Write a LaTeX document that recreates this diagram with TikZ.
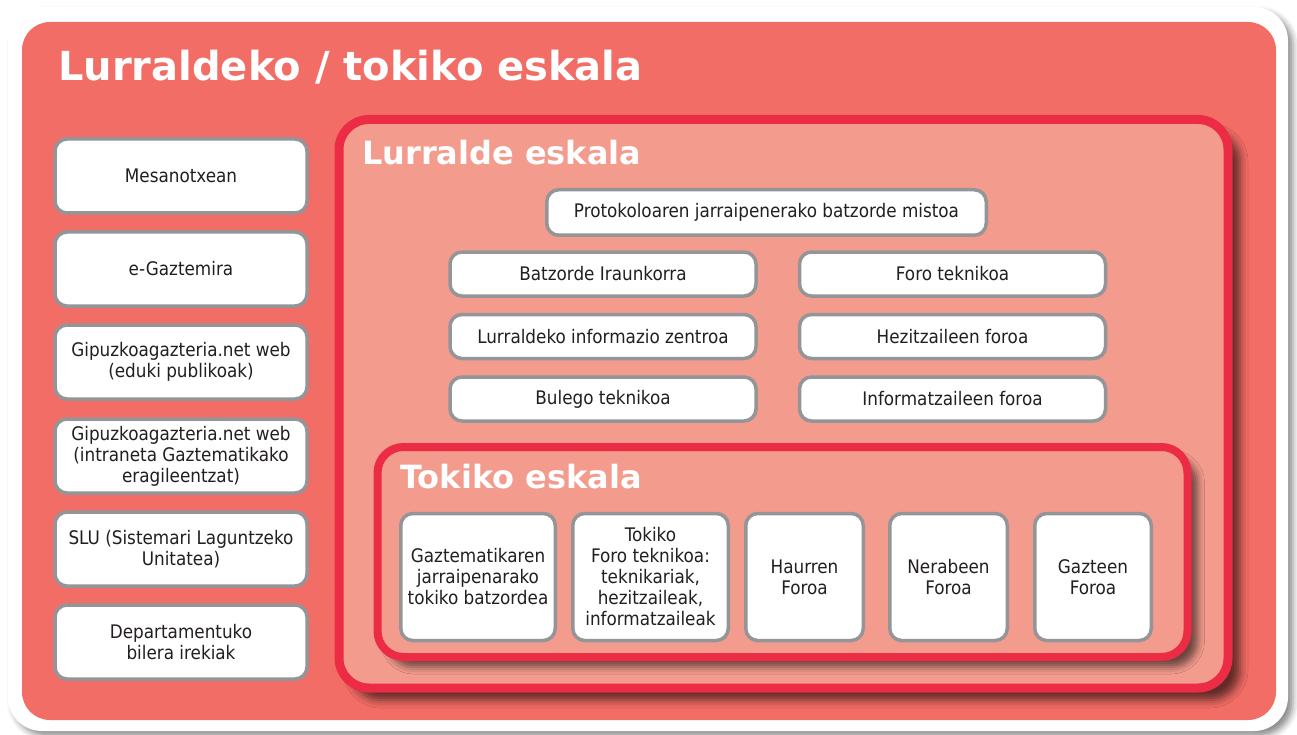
\documentclass[tikz,border=0pt]{standalone}
\usepackage{fontspec}
\setmainfont{DejaVuSansCondensed}[Extension=.ttf,BoldFont=DejaVuSansCondensed-Bold]
\newfontfamily\headfont{DejaVuSans-Bold}[Extension=.ttf]
\usepackage{xcolor}
\usetikzlibrary{shadows.blur}
\definecolor{outerred}{HTML}{F26D65}
\definecolor{innerpink}{HTML}{F39B8D}
\definecolor{edgered}{HTML}{EC2B45}
\definecolor{boxgray}{HTML}{939598}
\definecolor{textgray}{HTML}{231F20}

\begin{document}
\begin{tikzpicture}[x=1pt,y=-1pt,
  item/.style={draw=boxgray,line width=3.5pt,fill=white,rounded corners=12pt,align=center,
    text=textgray,font=\fontsize{18.7}{21}\selectfont,inner sep=0pt},
  leftbox/.style={item,minimum width=252pt,minimum height=74pt},
  rowbox/.style={item,minimum width=306pt,minimum height=44pt},
  forum/.style={item,minimum height=127pt},
  heading/.style={anchor=base west,inner sep=0pt,text=white,font=\headfont\fontsize{#1}{#1}\selectfont}]
  \useasboundingbox (0,0) rectangle (1297,735);
  % frames
  \path[fill=white,rounded corners=34pt,blur shadow={shadow xshift=5pt,shadow yshift=-5pt,shadow blur radius=6pt,shadow opacity=45}] (8,7) rectangle (1288,731);
  \fill[outerred,rounded corners=28pt] (22,22) rectangle (1276,720);
  \draw[edgered,line width=9pt,fill=innerpink,rounded corners=30pt,blur shadow={shadow xshift=12pt,shadow yshift=-12pt,shadow blur radius=8pt,shadow opacity=60}] (339,119.5) rectangle (1228,688);
  \draw[edgered,line width=8pt,fill=innerpink,rounded corners=26pt,blur shadow={shadow xshift=10pt,shadow yshift=-10pt,shadow blur radius=7pt,shadow opacity=55}] (377.5,447) rectangle (1187.5,657);
  \node[heading=40] (titlemain) at (58,81) {Lurraldeko / tokiko eskala};
  \node[heading=32] (titlelurr) at (362,165) {Lurralde eskala};
  \node[heading=32] (titletoki) at (400,488) {Tokiko eskala};
  % left column
  \node[leftbox] (mesa) at (181,176) {Mesanotxean};
  \node[leftbox] (egazte) at (181,269) {e-Gaztemira};
  \node[leftbox] (webpub) at (181,362) {Gipuzkoagazteria.net web\\(eduki publikoak)};
  \node[leftbox] (webint) at (181,456) {Gipuzkoagazteria.net web\\(intraneta Gaztematikako\\eragileentzat)};
  \node[leftbox] (slu) at (181,549) {SLU (Sistemari Laguntzeko\\Unitatea)};
  \node[leftbox] (bilera) at (181,642) {Departamentuko\\bilera irekiak};
  % lurralde eskala
  \node[item,minimum width=439.5pt,minimum height=45.5pt] (proto) at (766.5,212.5) {Protokoloaren jarraipenerako batzorde mistoa};
  \node[rowbox] (iraun) at (603,274) {Batzorde Iraunkorra};
  \node[rowbox] (info) at (603,336.5) {Lurraldeko informazio zentroa};
  \node[rowbox] (bulego) at (603,399) {Bulego teknikoa};
  \node[rowbox] (foro) at (952.5,274) {Foro teknikoa};
  \node[rowbox] (hezi) at (952.5,336.5) {Hezitzaileen foroa};
  \node[rowbox] (inform) at (952.5,399) {Informatzaileen foroa};
  % tokiko eskala
  \node[forum,minimum width=154.5pt] (gazbatz) at (478,577) {Gaztematikaren\\jarraipenarako\\tokiko batzordea};
  \node[forum,minimum width=155.5pt] (tokforo) at (650.5,577) {Tokiko\\Foro teknikoa:\\teknikariak,\\hezitzaileak,\\informatzaileak};
  \node[forum,minimum width=117.5pt] (haur) at (804.5,577) {Haurren\\Foroa};
  \node[forum,minimum width=117.5pt] (nera) at (948.5,577) {Nerabeen\\Foroa};
  \node[forum,minimum width=116.5pt] (gazte) at (1093,577) {Gazteen\\Foroa};
\end{tikzpicture}
\end{document}
